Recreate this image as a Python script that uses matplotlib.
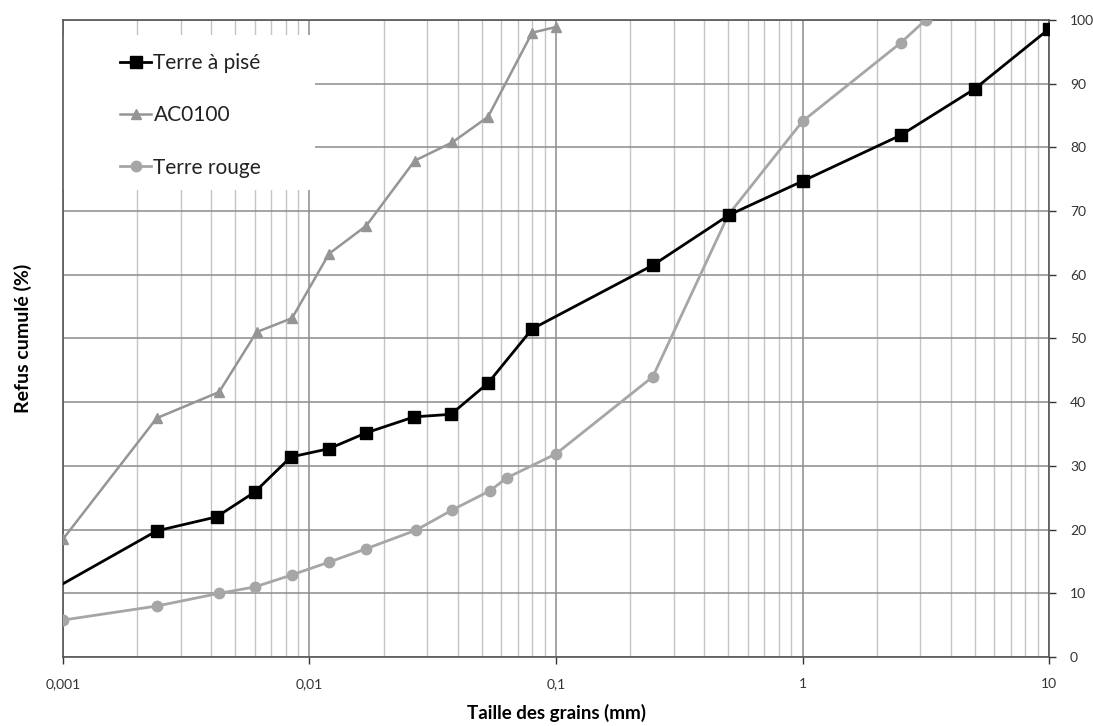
import matplotlib
matplotlib.use('Agg')
import matplotlib.pyplot as plt
from matplotlib.patches import Rectangle
from matplotlib.ticker import FixedLocator, LogLocator, NullFormatter, MultipleLocator

plt.rcParams['font.family'] = ['Lato', 'DejaVu Sans']

# Terre à pisé
pise_x = [0.001, 0.0024, 0.0042, 0.006, 0.0084, 0.012, 0.017, 0.0266, 0.0375,
          0.053, 0.080, 0.247, 0.504, 1.0, 2.5, 5.0, 10.0]
pise_y = [11.5, 19.8, 22.0, 25.9, 31.4, 32.7, 35.2, 37.7, 38.1,
          43.0, 51.5, 61.5, 69.4, 74.7, 81.9, 89.2, 98.6]

# AC0100
ac_x = [0.001, 0.0024, 0.0043, 0.0061, 0.0085, 0.012, 0.017, 0.0267, 0.038,
        0.053, 0.080, 0.1]
ac_y = [18.5, 37.5, 41.6, 51.0, 53.2, 63.3, 67.7, 77.9, 80.8, 84.8, 98.0, 98.9]

# Terre rouge
rouge_x = [0.001, 0.0024, 0.0043, 0.006, 0.0085, 0.012, 0.017, 0.027, 0.038,
           0.054, 0.063, 0.1, 0.247, 0.5, 1.0, 2.5, 3.16]
rouge_y = [5.8, 8.0, 10.0, 11.0, 12.9, 14.9, 17.0, 19.9, 23.1,
           26.1, 28.1, 31.9, 44.0, 69.4, 84.1, 96.4, 100.0]

x_ticks = [0.001, 0.01, 0.1, 1, 10]
x_labels = ['0,001', '0,01', '0,1', '1', '10']

fig = plt.figure(figsize=(10.93, 7.26), dpi=100)
ax = fig.add_axes([0.0576, 0.095, 0.9022, 0.8775])

ax.set_xscale('log')
ax.set_xlim(0.001, 10)
ax.set_ylim(0, 100)

ax.plot(rouge_x, rouge_y, color='#a6a6a6', lw=2, marker='o', ms=7.5,
        label='Terre rouge', zorder=3)
ax.plot(ac_x, ac_y, color='#959595', lw=1.8, marker='^', ms=7,
        label='AC0100', zorder=4)
ax.plot(pise_x, pise_y, color='black', lw=2, marker='s', ms=8,
        markevery=list(range(1, len(pise_x))), label='Terre à pisé', zorder=5)

ax.xaxis.set_major_locator(FixedLocator(x_ticks))
ax.set_xticklabels(x_labels)
ax.xaxis.set_minor_locator(LogLocator(base=10, subs=range(2, 10)))
ax.xaxis.set_minor_formatter(NullFormatter())
ax.yaxis.set_major_locator(MultipleLocator(10))

ax.yaxis.tick_right()
ax.tick_params(axis='both', which='major', labelsize=10, colors='#333333',
               length=5, width=1, pad=10)
ax.tick_params(axis='x', which='minor', length=0)

ax.grid(True, which='major', color='#8c8c8c', lw=1.1)
ax.grid(True, which='minor', axis='x', color='#c4c4c4', lw=1)
ax.set_axisbelow(True)
for s in ax.spines.values():
    s.set_color('#555555')
    s.set_linewidth(1.2)

ax.set_xlabel('Taille des grains (mm)', fontsize=13.5, fontweight='bold', labelpad=10)
fig.text(0.021, 0.534, 'Refus cumulé (%)', rotation=90, fontsize=14,
         fontweight='bold', ha='center', va='center')

# white area behind the legend
ax.add_patch(Rectangle((0.0, 0.733), 0.256, 0.243, transform=ax.transAxes,
                       facecolor='white', edgecolor='none', zorder=2))

handles, labels = ax.get_legend_handles_labels()
leg = ax.legend(handles[::-1], labels[::-1], loc='upper left',
                bbox_to_anchor=(0.058, 0.948), fontsize=15, frameon=False,
                handlelength=1.5, handletextpad=0.1, labelspacing=1.55,
                borderpad=0.0, borderaxespad=0.0)
for t in leg.get_texts():
    t.set_color('#222222')
leg.set_zorder(10)

fig.savefig('out.png', dpi=100)
